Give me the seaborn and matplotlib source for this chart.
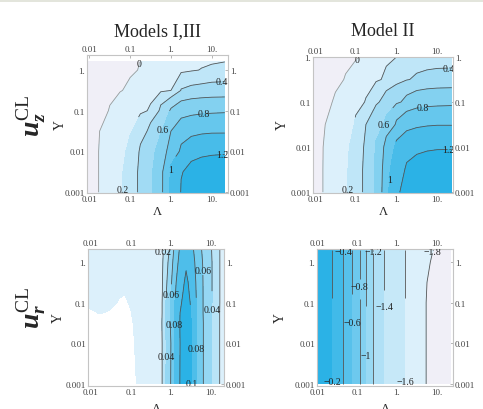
import numpy as np
import matplotlib
matplotlib.use("Agg")
import matplotlib.pyplot as plt
import seaborn as sns
from matplotlib.patches import Rectangle
from matplotlib.ticker import FixedLocator, FixedFormatter, NullLocator

# ---- data (log10 Lambda columns, log10 Upsilon rows) ----

# u_z^CL, Models I,III
uz13_loglam = [-2.05, -1.75, -1.5, -1.25, -1.0, -0.75, -0.5, -0.25, 0.0, 0.25, 0.5, 0.75, 1.0, 1.32]
uz13_logy = [-3.0, -2.5, -2.0, -1.5, -1.0, -0.5, 0.0, 0.2]
uz13_values = [
    [-0.08, 0.01, 0.09, 0.17, 0.30, 0.45, 0.57, 0.76, 1.04, 1.21, 1.30, 1.34, 1.36, 1.37],
    [-0.08, 0.01, 0.09, 0.17, 0.30, 0.45, 0.57, 0.76, 1.03, 1.19, 1.26, 1.29, 1.30, 1.31],
    [-0.08, 0.01, 0.08, 0.15, 0.25, 0.43, 0.54, 0.70, 0.90, 1.03, 1.10, 1.14, 1.16, 1.17],
    [-0.09, 0.00, 0.06, 0.12, 0.18, 0.30, 0.47, 0.58, 0.80, 0.90, 0.94, 0.96, 0.97, 0.97],
    [-0.15, -0.09, 0.02, 0.07, 0.12, 0.17, 0.22, 0.45, 0.63, 0.70, 0.73, 0.75, 0.76, 0.77],
    [-0.30, -0.20, -0.10, -0.01, 0.04, 0.09, 0.13, 0.17, 0.20, 0.41, 0.44, 0.45, 0.46, 0.46],
    [-0.50, -0.40, -0.28, -0.15, -0.04, 0.02, 0.06, 0.09, 0.12, 0.15, 0.18, 0.21, 0.24, 0.26],
    [-0.60, -0.50, -0.38, -0.25, -0.12, 0.005, 0.04, 0.07, 0.10, 0.12, 0.14, 0.16, 0.18, 0.20],
]

# u_z^CL, Model II
uz2_loglam = [-2.1, -1.75, -1.5, -1.25, -1.0, -0.75, -0.5, -0.25, 0.0, 0.25, 0.5, 0.75, 1.0, 1.36]
uz2_logy = [-3.0, -2.5, -2.0, -1.5, -1.0, -0.5, 0.0]
uz2_values = [
    [-0.07, 0.02, 0.10, 0.18, 0.29, 0.47, 0.64, 0.96, 1.17, 1.28, 1.32, 1.34, 1.35, 1.36],
    [-0.07, 0.02, 0.10, 0.18, 0.29, 0.47, 0.63, 0.94, 1.13, 1.22, 1.26, 1.28, 1.29, 1.30],
    [-0.08, 0.02, 0.09, 0.17, 0.27, 0.45, 0.62, 0.88, 1.04, 1.12, 1.15, 1.17, 1.18, 1.18],
    [-0.09, 0.00, 0.06, 0.12, 0.22, 0.40, 0.52, 0.64, 0.83, 0.92, 0.96, 0.98, 0.99, 0.99],
    [-0.14, -0.05, 0.03, 0.09, 0.15, 0.21, 0.37, 0.49, 0.57, 0.65, 0.70, 0.72, 0.73, 0.74],
    [-0.25, -0.15, -0.07, 0.02, 0.07, 0.12, 0.17, 0.24, 0.32, 0.39, 0.43, 0.45, 0.46, 0.46],
    [-0.45, -0.33, -0.22, -0.11, -0.02, 0.05, 0.10, 0.15, 0.20, 0.23, 0.26, 0.28, 0.29, 0.30],
]

# u_r^CL, Models I,III
ur13_loglam = [-2.05, -1.8, -1.55, -1.3, -1.15, -1.0, -0.9, -0.8, -0.5, -0.23, -0.12, 0.0,
               0.1, 0.23, 0.38, 0.52, 0.65, 0.82, 1.03, 1.23, 1.34]
ur13_logy = [-3.0, -2.0, -1.5, -1.25, -1.0, -0.75, -0.5, 0.0, 0.3]
ur13_values = [
    [-0.020, -0.020, -0.020, -0.020, -0.020, -0.015, -0.001, 0.002, 0.012, 0.018, 0.041, 0.061,
     0.081, 0.101, 0.115, 0.099, 0.079, 0.059, 0.039, 0.019, 0.013],
    [-0.012, -0.010, -0.010, -0.012, -0.012, -0.008, 0.001, 0.004, 0.012, 0.018, 0.040, 0.060,
     0.080, 0.100, 0.113, 0.099, 0.079, 0.059, 0.039, 0.019, 0.013],
    [-0.006, -0.004, -0.005, -0.007, -0.008, -0.004, 0.004, 0.005, 0.012, 0.019, 0.043, 0.063,
     0.083, 0.101, 0.111, 0.099, 0.079, 0.059, 0.039, 0.019, 0.013],
    [-0.002, 0.0005, -0.0008, -0.004, -0.005, -0.0005, 0.005, 0.006, 0.012, 0.018, 0.042, 0.062,
     0.082, 0.100, 0.109, 0.098, 0.078, 0.058, 0.039, 0.019, 0.013],
    [0.003, 0.004, 0.003, -0.001, -0.0019, 0.002, 0.006, 0.007, 0.012, 0.018, 0.041, 0.061,
     0.080, 0.098, 0.107, 0.097, 0.078, 0.058, 0.040, 0.0195, 0.013],
    [0.006, 0.006, 0.006, 0.002, 0.0006, 0.004, 0.007, 0.008, 0.012, 0.017, 0.039, 0.059,
     0.078, 0.096, 0.105, 0.095, 0.077, 0.058, 0.040, 0.0195, 0.013],
    [0.008, 0.008, 0.008, 0.005, 0.004, 0.006, 0.008, 0.009, 0.012, 0.017, 0.037, 0.057,
     0.076, 0.094, 0.103, 0.094, 0.076, 0.058, 0.040, 0.0195, 0.013],
    [0.010, 0.010, 0.010, 0.009, 0.009, 0.009, 0.010, 0.010, 0.012, 0.016, 0.033, 0.052,
     0.070, 0.087, 0.096, 0.089, 0.073, 0.057, 0.040, 0.0195, 0.013],
    [0.011, 0.011, 0.011, 0.011, 0.011, 0.011, 0.011, 0.011, 0.012, 0.015, 0.029, 0.047,
     0.066, 0.083, 0.090, 0.085, 0.070, 0.055, 0.039, 0.0195, 0.013],
]

# u_r^CL, Model II
ur2_loglam = [-2.05, -1.75, -1.5, -1.25, -1.0, -0.75, -0.5, -0.25, 0.0, 0.25, 0.5, 0.75, 1.0, 1.34]
ur2_logy = [-3.0, -1.0, -0.5, 0.0, 0.3]
ur2_values = [
    [-0.08, -0.14, -0.28, -0.49, -0.74, -1.04, -1.33, -1.44, -1.52, -1.62, -1.72, -1.81, -1.86, -1.90],
    [-0.08, -0.14, -0.28, -0.49, -0.74, -1.04, -1.33, -1.44, -1.52, -1.62, -1.72, -1.81, -1.86, -1.90],
    [-0.08, -0.14, -0.28, -0.49, -0.74, -1.04, -1.33, -1.44, -1.52, -1.62, -1.715, -1.80, -1.855, -1.895],
    [-0.08, -0.14, -0.28, -0.49, -0.74, -1.04, -1.33, -1.44, -1.52, -1.62, -1.70, -1.785, -1.84, -1.88],
    [-0.08, -0.14, -0.28, -0.49, -0.74, -1.04, -1.33, -1.44, -1.52, -1.62, -1.68, -1.76, -1.83, -1.87],
]

uz_levels = [-1.0, 0.0, 0.2, 0.4, 0.6, 0.8, 1.0, 1.2, 2.0]
ur13_levels = [0.0, 0.02, 0.04, 0.06, 0.08, 0.10, 0.2]
ur2_levels = [-2.5, -1.8, -1.6, -1.4, -1.2, -1.0, -0.8, -0.6, -0.4, -0.2, 0.0]

# where the contour labels sit (log10 Lambda, log10 Upsilon)
uz13_label_at = [(-0.75, 0.15), (-1.17, -2.93), (1.25, -0.39), (-0.18, -1.48),
                 (0.8, -1.17), (-0.02, -2.3), (1.25, -2.1)]
uz2_label_at = [(-1.12, -0.05), (-1.26, -2.95), (1.28, -0.39), (-0.31, -1.49),
                (0.65, -1.15), (-0.18, -2.62), (1.28, -2.1)]
ur13_label_at = [(-0.2, 0.25), (0.8, -0.22), (0.0, -0.8), (1.03, -1.2), (0.05, -1.57),
                 (0.68, -2.12), (-0.12, -2.33), (0.55, -2.9)]
ur2_label_at = [(-1.62, -2.95), (-1.33, 0.25), (-1.15, -1.5), (-0.93, -0.6), (-0.78, -2.3),
                (-0.62, 0.25), (-0.33, -1.1), (0.21, -2.95), (0.85, 0.25)]

x_ticks = [0.01, 0.1, 1, 10]
x_tick_labels = ["0.01", "0.1", "1.", "10."]
y_ticks = [0.001, 0.01, 0.1, 1]
y_tick_labels = ["0.001", "0.01", "0.1", "1."]

# ---- style ----
sns.set_theme(style="white")
plt.rcParams["font.family"] = ["Liberation Serif", "DejaVu Serif"]
plt.rcParams["mathtext.fontset"] = "custom"
plt.rcParams["mathtext.it"] = "Liberation Serif:italic:bold"
plt.rcParams["mathtext.rm"] = "Liberation Serif"
plt.rcParams["axes.unicode_minus"] = True

LAVENDER = "#f0eff7"


def blues(n):
    return sns.blend_palette(["#dcf0fb", "#2bb2e6"], n)


def fmt(v):
    return f"{v:g}".replace("-", "\u2212")


def draw_panel(ax, loglam, logy, values, levels, fills, label_at, xlim, ylim, faint_first=False):
    lam = np.power(10.0, loglam)
    ups = np.power(10.0, logy)
    z = np.asarray(values)
    ax.contourf(lam, ups, z, levels=levels, colors=fills)
    line_levels = levels[1:-1]
    line_cols = ["#555555"] * len(line_levels)
    if faint_first:
        line_cols[0] = "#9a9a9a"
    cs = ax.contour(lam, ups, z, levels=line_levels, colors=line_cols, linewidths=0.6)
    texts = ax.clabel(cs, inline=True, fontsize=7, fmt=fmt, inline_spacing=0, colors="#222222",
                      manual=[(10 ** a, 10 ** b) for a, b in label_at])
    for t in texts:
        t.set_rotation(0)
    ax.set_xscale("log")
    ax.set_yscale("log")
    ax.set_xlim(10 ** xlim[0], 10 ** xlim[1])
    ax.set_ylim(10 ** ylim[0], 10 ** ylim[1])
    ax.xaxis.set_major_locator(FixedLocator(x_ticks))
    ax.xaxis.set_major_formatter(FixedFormatter(x_tick_labels))
    ax.yaxis.set_major_locator(FixedLocator(y_ticks))
    ax.yaxis.set_major_formatter(FixedFormatter(y_tick_labels))
    ax.xaxis.set_minor_locator(NullLocator())
    ax.yaxis.set_minor_locator(NullLocator())
    ax.tick_params(which="major", top=True, right=True, labeltop=True, labelright=True,
                   direction="in", length=2.5, width=0.5, color="#999999",
                   labelsize=6.5, labelcolor="#444444", pad=1.5)
    for s in ax.spines.values():
        s.set_color("#c4c4c4")
        s.set_linewidth(0.8)
    ax.set_facecolor("white")


W, H = 483, 410
fig = plt.figure(figsize=(W / 100, H / 100), dpi=100)
fig.patches.append(Rectangle((0, 1 - 3 / H), 1, 3 / H, transform=fig.transFigure,
                             facecolor="#e3e5dc", edgecolor="none"))


def px_axes(x0, y0, x1, y1):
    return fig.add_axes([x0 / W, 1 - y1 / H, (x1 - x0) / W, (y1 - y0) / H])


ax1 = px_axes(87, 56, 228, 194)
ax2 = px_axes(313, 58, 453, 194)
ax3 = px_axes(88, 250, 224, 387)
ax4 = px_axes(317, 250, 453, 387)

draw_panel(ax1, uz13_loglam, uz13_logy, uz13_values, uz_levels, [LAVENDER] + blues(7),
           uz13_label_at, (-2.06, 1.40), (-3.02, 0.37), faint_first=True)
draw_panel(ax2, uz2_loglam, uz2_logy, uz2_values, uz_levels, [LAVENDER] + blues(7),
           uz2_label_at, (-2.05, 1.39), (-3.02, 0.0), faint_first=True)
draw_panel(ax3, ur13_loglam, ur13_logy, ur13_values, ur13_levels, blues(6),
           ur13_label_at, (-2.075, 1.33), (-3.05, 0.32))
draw_panel(ax4, ur2_loglam, ur2_logy, ur2_values, ur2_levels, [LAVENDER] + blues(9),
           ur2_label_at, (-2.0, 1.4), (-3.05, 0.32))

# titles and axis names
fig.text(157.5 / W, 1 - 32 / H, "Models I,III", ha="center", va="center", fontsize=13)
fig.text(383 / W, 1 - 32 / H, "Model II", ha="center", va="center", fontsize=13)
for (x, y) in [(60, 125), (282, 125), (58, 318), (280, 318)]:
    fig.text(x / W, 1 - y / H, "\u03a5", rotation=90, ha="center", va="center", fontsize=10)
for (x, y) in [(157, 212), (383, 212)]:
    fig.text(x / W, 1 - y / H, "\u039b", ha="center", va="center", fontsize=9)
for (x, y) in [(156, 403), (385, 403)]:
    fig.text(x / W, 1 - y / H, "\u039b", ha="center", va="top", fontsize=9)
fig.text(32 / W, 1 - 116 / H, r"$u_z^{\mathrm{CL}}$", rotation=90, ha="center", va="center", fontsize=20)
fig.text(32 / W, 1 - 308 / H, r"$u_r^{\mathrm{CL}}$", rotation=90, ha="center", va="center", fontsize=20)

fig.savefig("out.png", dpi=100)
plt.close(fig)
